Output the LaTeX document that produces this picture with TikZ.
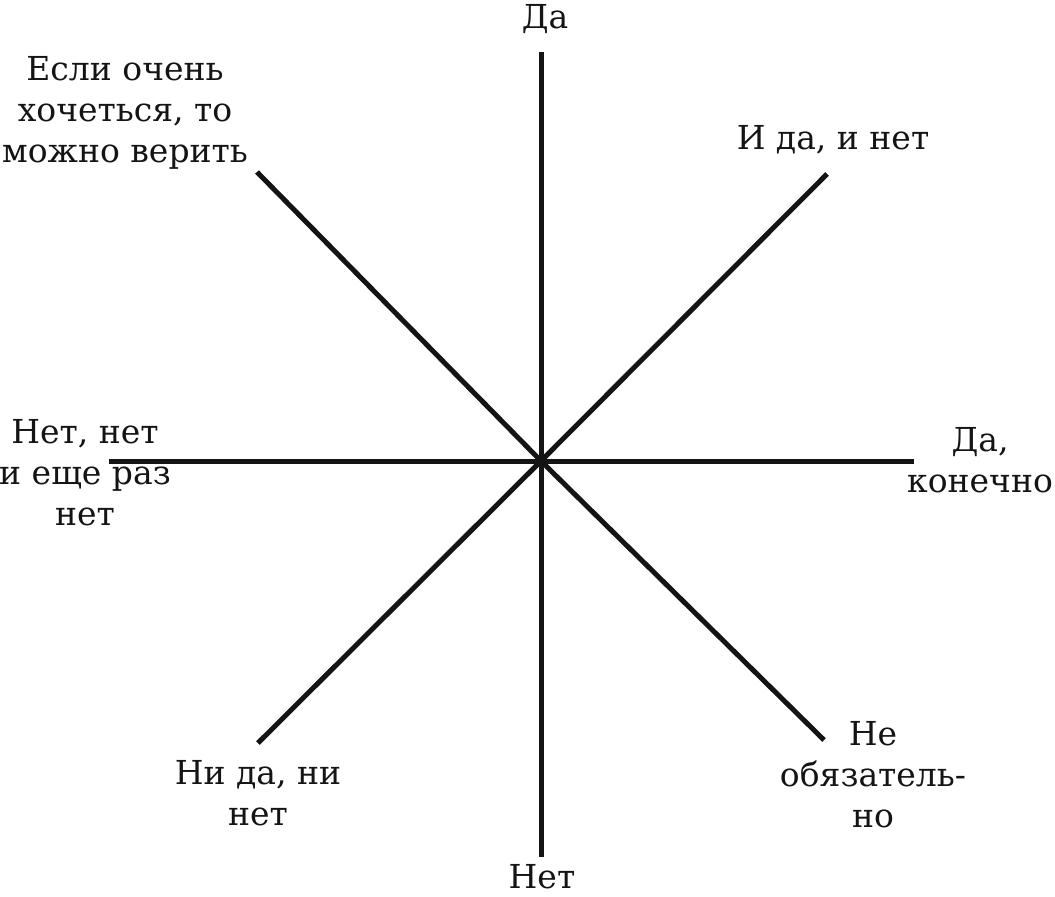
\documentclass[tikz,border=0pt]{standalone}
\usepackage{fontspec}
\setmainfont{DejaVu Serif}
\begin{document}
\begin{tikzpicture}[x=1pt,y=-1pt,
  ray/.style={line width=5pt,color=black!92},
  lbl/.style={font=\fontsize{33}{41}\selectfont,inner sep=0pt,align=center,anchor=base,text=black!92}]
\useasboundingbox (0,0) rectangle (1055,897);
\coordinate (c) at (541,461);
\coordinate (n) at (541,52);
\coordinate (s) at (541,857);
\coordinate (w) at (109,461);
\coordinate (e) at (914,461);
\coordinate (nw) at (257,172);
\coordinate (ne) at (827,174);
\coordinate (sw) at (258,743);
\coordinate (se) at (824,740);
\foreach \p in {n,s,w,e,nw,ne,sw,se} \draw[ray] (c) -- (\p);
\node[lbl] (ln) at (545,28) {Да};
\node[lbl] (lnw) at (125,162) {Если очень\\хочеться, то\\можно верить};
\node[lbl] (lne) at (833,149) {И да, и нет};
\node[lbl] (lw) at (85,525) {Нет, нет\\и еще раз\\нет};
\node[lbl] (le) at (980,492) {Да,\\конечно};
\node[lbl] (lsw) at (258,825) {Ни да, ни\\нет};
\node[lbl] (lse) at (873,827) {Не\\обязатель-\\но};
\node[lbl] (ls) at (542,888) {Нет};
\end{tikzpicture}
\end{document}
